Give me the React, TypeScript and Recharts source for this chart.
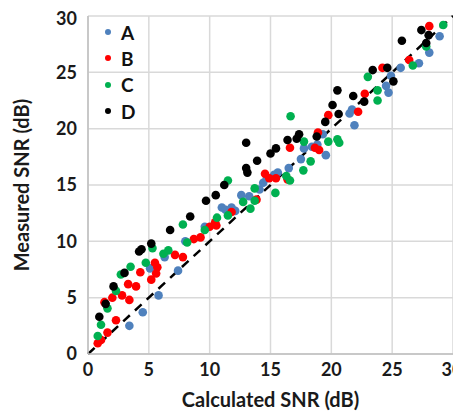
import {
  CartesianGrid,
  ReferenceLine,
  Scatter,
  ScatterChart,
  XAxis,
  YAxis,
} from 'recharts';

// Series names / colours and the shared axis ticks
const seriesNames = ['A', 'B', 'C', 'D'];
const seriesColors = ['#4f81bd', '#ff0000', '#00b050', '#000000'];
const axisTicks = [0, 5, 10, 15, 20, 25, 30];

// [calculated, measured] pairs
const seriesA = [
  [3.4, 2.5], [4.5, 3.7], [5.8, 5.2], [5.1, 7.6], [7.4, 7.4], [6.3, 8.6],
  [8.0, 10.0], [9.6, 11.3], [11.0, 13.0], [11.3, 12.8], [11.8, 13.0], [12.1, 12.7],
  [12.6, 14.1], [13.25, 14.0], [14.1, 14.6], [14.4, 15.2], [14.7, 15.6], [15.3, 15.9],
  [15.6, 16.1], [16.5, 16.5], [17.5, 17.3], [17.75, 18.25], [18.4, 18.4], [18.85, 18.6],
  [19.3, 19.5], [19.55, 17.65], [21.5, 21.35], [21.7, 21.7], [21.9, 20.3], [24.5, 23.8],
  [24.7, 23.2], [24.9, 24.7], [25.7, 25.4], [27.2, 25.8], [28.05, 26.75], [28.9, 28.2],
];
const seriesB = [
  [0.8, 0.95], [1.07, 1.25], [1.6, 1.9], [2.3, 3.0], [3.4, 4.8], [2.0, 5.0],
  [2.8, 5.2], [1.35, 4.6], [3.3, 6.2], [3.95, 6.0], [4.3, 7.25], [5.2, 6.6],
  [5.6, 7.15], [5.7, 7.7], [5.5, 8.1], [7.15, 8.8], [7.8, 8.6], [8.7, 10.2],
  [9.25, 10.35], [10.0, 11.3], [10.45, 11.7], [10.55, 11.4], [11.8, 12.6], [13.85, 13.7],
  [14.55, 16.0], [14.9, 15.6], [15.45, 15.6], [16.4, 15.5], [16.6, 18.3], [18.65, 18.3],
  [19.0, 18.1], [18.9, 19.65], [19.75, 21.2], [22.2, 21.5], [22.75, 23.1], [24.2, 25.4],
  [26.4, 26.1], [28.05, 29.1],
];
const seriesC = [
  [0.8, 1.6], [1.07, 2.6], [1.6, 4.05], [2.3, 5.6], [2.7, 7.05], [3.5, 7.75],
  [4.75, 8.1], [5.3, 9.4], [6.2, 8.9], [6.6, 9.2], [7.8, 11.5], [8.15, 9.9],
  [9.6, 11.0], [10.6, 12.1], [11.5, 12.3], [11.5, 15.4], [12.75, 13.5], [13.35, 12.9],
  [13.7, 13.6], [13.7, 14.7], [15.4, 14.3], [16.3, 15.8], [16.6, 15.4], [16.65, 21.1],
  [17.7, 16.3], [17.75, 18.85], [18.3, 17.1], [19.75, 18.85], [20.5, 19.05], [20.65, 18.75],
  [23.0, 24.6], [23.8, 23.4], [23.8, 22.5], [26.7, 25.6], [27.8, 27.3], [29.2, 29.2],
];
const seriesD = [
  [0.93, 3.3], [1.45, 4.45], [2.1, 6.0], [3.0, 7.2], [4.2, 9.1], [4.4, 9.3],
  [5.2, 9.8], [6.75, 11.0], [8.4, 12.2], [9.7, 13.6], [10.5, 14.1], [11.2, 15.0],
  [13.0, 16.5], [13.1, 16.1], [13.9, 17.15], [13.0, 18.75], [15.0, 17.8], [15.45, 18.25],
  [16.4, 19.0], [17.15, 19.1], [17.35, 19.5], [18.8, 19.3], [19.5, 20.6], [20.6, 21.3],
  [20.1, 22.1], [20.5, 23.4], [21.8, 22.9], [22.7, 22.4], [23.4, 25.2], [24.6, 25.4],
  [25.1, 24.2], [25.8, 27.8], [27.4, 28.75], [28.0, 28.3], [27.8, 27.6],
];

const allSeries = [seriesA, seriesB, seriesC, seriesD].map((pts) =>
  pts.map(([x, y]) => ({ x, y }))
);

const FONT = 'Lato, "Noto Sans", sans-serif';

const Dot = (props: any) => {
  const { cx, cy, fill } = props;
  if (cx == null || cy == null) return null;
  return <circle cx={cx} cy={cy} r={4.3} fill={fill} />;
};

// legend sits inside the plot, top-left corner
const LegendBox = () => (
  <div
    style={{
      position: 'absolute',
      left: 97,
      top: 11,
      fontFamily: FONT,
      fontWeight: 700,
      fontSize: 19,
      color: '#111',
    }}
  >
    {seriesNames.map((name, i) => (
      <div key={name} style={{ display: 'flex', alignItems: 'center', height: 26.3 }}>
        <span
          style={{
            width: 6,
            height: 6,
            borderRadius: 3,
            background: seriesColors[i],
            marginRight: 10,
          }}
        />
        <span>{name}</span>
      </div>
    ))}
  </div>
);

export default function App() {
  const tickStyle = { fill: '#1a1a1a', fontSize: 18, fontWeight: 700, fontFamily: FONT };
  const titleStyle = { fill: '#1a1a1a', fontSize: 20, fontWeight: 700, fontFamily: FONT };

  return (
    <div style={{ position: 'relative', width: 453, height: 404 }}>
      <ScatterChart
        width={453}
        height={404}
        margin={{ top: 8, right: 8, left: 0, bottom: 0 }}
      >
        <CartesianGrid stroke="#d9d9d9" strokeWidth={1.5} />
        <XAxis
          type="number"
          dataKey="x"
          domain={[0, 30]}
          ticks={axisTicks}
          height={58}
          stroke="#bfbfbf"
          strokeWidth={1.5}
          tickLine={false}
          tickMargin={3}
          tick={tickStyle}
          label={{ value: 'Calculated SNR (dB)', position: 'insideBottom', offset: 5, style: titleStyle }}
        />
        <YAxis
          type="number"
          dataKey="y"
          domain={[0, 30]}
          ticks={axisTicks}
          width={80}
          stroke="#bfbfbf"
          strokeWidth={1.5}
          tickLine={false}
          tickMargin={5}
          tick={tickStyle}
          label={{
            value: 'Measured SNR (dB)',
            angle: -90,
            position: 'insideLeft',
            offset: 14,
            style: { ...titleStyle, textAnchor: 'middle' },
          }}
        />
        <ReferenceLine
          segment={[{ x: 0, y: 0 }, { x: 30, y: 30 }]}
          stroke="#000"
          strokeWidth={2.5}
          strokeDasharray="9 7"
        />
        {allSeries.map((data, i) => (
          <Scatter
            key={seriesNames[i]}
            name={seriesNames[i]}
            data={data}
            fill={seriesColors[i]}
            shape={<Dot />}
            isAnimationActive={false}
          />
        ))}
      </ScatterChart>
      <LegendBox />
    </div>
  );
}
